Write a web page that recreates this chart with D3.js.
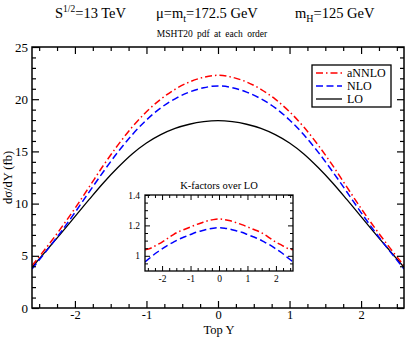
<!DOCTYPE html>
<html><head><meta charset="utf-8">
<script src="https://cdn.jsdelivr.net/npm/d3@7"></script>
<style>
html,body{margin:0;padding:0;background:#fff;}
svg text{font-family:"Liberation Serif","Times New Roman",serif !important;font-weight:400;fill:#000;}
</style></head>
<body>
<svg id="c" width="407" height="337"></svg>
<script>
// ---- data ----
const rapidity = [-2.6,-2.4,-2.2,-2.0,-1.8,-1.6,-1.4,-1.2,-1.0,-0.8,-0.6,-0.4,-0.2,0,
                  0.2,0.4,0.6,0.8,1.0,1.2,1.4,1.6,1.8,2.0,2.2,2.4,2.6];
const loValues    = [3.9,5.5,7.1,8.75,10.4,12.0,13.45,14.75,15.8,16.6,17.2,17.6,17.85,17.95,
                     17.85,17.6,17.2,16.6,15.8,14.75,13.45,12.0,10.4,8.75,7.1,5.5,3.9];
const nloValues   = [3.74,5.45,7.24,9.14,11.13,13.08,14.93,16.59,18.01,19.17,20.04,20.68,21.10,21.27,
                     21.10,20.68,20.04,19.17,18.01,16.59,14.93,13.08,11.13,9.14,7.24,5.45,3.74];
const annloValues = [4.06,5.78,7.60,9.54,11.60,13.68,15.60,17.33,18.80,20.00,20.95,21.65,22.10,22.29,
                     22.10,21.65,20.95,20.00,18.80,17.33,15.60,13.68,11.60,9.54,7.60,5.78,4.06];
const kNloValues   = [0.96,0.99,1.02,1.045,1.07,1.09,1.11,1.125,1.14,1.155,1.165,1.175,1.182,1.185,
                      1.182,1.175,1.165,1.155,1.14,1.125,1.11,1.09,1.07,1.045,1.02,0.99,0.96];
const kAnnloValues = [1.04,1.05,1.07,1.09,1.115,1.14,1.16,1.175,1.19,1.205,1.218,1.23,1.238,1.242,
                      1.238,1.23,1.218,1.205,1.19,1.175,1.16,1.14,1.115,1.09,1.07,1.05,1.04];
const xTickValues = [-2,-1,0,1,2];
const yTickValues = [0,5,10,15,20,25];
const insetYTickValues = [1.0,1.2,1.4];
const seriesNames = ["aNNLO","NLO","LO"];

// ---- drawing ----
const FONT = '"Liberation Serif","Times New Roman",serif';
const svg = d3.select("#c");
const L=32, R=404, T=47, B=308;
const x = d3.scaleLinear().domain([-2.6,2.6]).range([L,R]);
const y = d3.scaleLinear().domain([0,25]).range([B,T]);

const styles = {
  aNNLO:{color:"#ff0000", dash:"7,3,1.5,3", w:1.5},
  NLO:{color:"#0000ff", dash:"7,3.5", w:1.5},
  LO:{color:"#000000", dash:null, w:1.3}
};

svg.append("clipPath").attr("id","mainclip").append("rect")
  .attr("x",L).attr("y",T).attr("width",R-L).attr("height",B-T);

const line = d3.line().x((d,i)=>x(rapidity[i])).y(d=>y(d)).curve(d3.curveMonotoneX);
const seriesData = {aNNLO:annloValues, NLO:nloValues, LO:loValues};
const g = svg.append("g").attr("clip-path","url(#mainclip)");
["LO","NLO","aNNLO"].forEach(n=>{
  g.append("path").attr("d",line(seriesData[n])).attr("fill","none")
   .attr("stroke",styles[n].color).attr("stroke-width",styles[n].w)
   .attr("stroke-dasharray",styles[n].dash);
});

function styleAxis(sel, fs){
  sel.attr("font-family",FONT).attr("font-size",fs);
  sel.select(".domain").remove();
  sel.selectAll("line").attr("stroke","#000").attr("stroke-width",1.2);
  sel.selectAll("text").style("font-size",fs+"px");
}
const xMinor = d3.range(-2.5,2.51,0.25).filter(v=>Math.abs(v-Math.round(v))>1e-6);
const yMinor = d3.range(1,25,1).filter(v=>v%5!==0);

const ax = [
  [d3.axisBottom(x).tickValues(xTickValues).tickSize(-7).tickPadding(2).tickFormat(d=>d), `translate(0,${B})`, 12.5],
  [d3.axisBottom(x).tickValues(xMinor).tickSize(-4).tickFormat(""), `translate(0,${B})`, 12.5],
  [d3.axisTop(x).tickValues(xTickValues).tickSize(-7).tickFormat(""), `translate(0,${T})`, 12.5],
  [d3.axisTop(x).tickValues(xMinor).tickSize(-4).tickFormat(""), `translate(0,${T})`, 12.5],
  [d3.axisLeft(y).tickValues(yTickValues).tickSize(-7).tickPadding(4).tickFormat(d=>d), `translate(${L},0)`, 13],
  [d3.axisLeft(y).tickValues(yMinor).tickSize(-4).tickFormat(""), `translate(${L},0)`, 13],
  [d3.axisRight(y).tickValues(yTickValues).tickSize(-7).tickFormat(""), `translate(${R},0)`, 13],
  [d3.axisRight(y).tickValues(yMinor).tickSize(-4).tickFormat(""), `translate(${R},0)`, 13]
];
ax.forEach(a=>{
  const s = svg.append("g").attr("transform",a[1]).call(a[0]);
  styleAxis(s,a[2]);
});
svg.append("rect").attr("x",L).attr("y",T).attr("width",R-L).attr("height",B-T)
  .attr("fill","none").attr("stroke","#000").attr("stroke-width",1.5);

// axis labels
svg.append("text").attr("x",219).attr("y",334).attr("text-anchor","middle")
  .style("font-size","12.5px").text("Top Y");
svg.append("text").attr("transform",`translate(12,${(T+B)/2}) rotate(-90)`)
  .attr("text-anchor","middle").style("font-size","12.5px").text("dσ/dY (fb)");

// title
const t = svg.append("text").attr("y",18).style("font-size","14.5px");
t.append("tspan").attr("x",55).text("S");
t.append("tspan").attr("dy",-6).style("font-size","9.5px").text("1/2");
t.append("tspan").attr("dy",6).text("=13 TeV");
const t2 = svg.append("text").attr("y",18).style("font-size","14.5px").attr("x",156);
t2.append("tspan").text("μ=m");
t2.append("tspan").attr("dy",4).style("font-size","10px").text("t");
t2.append("tspan").attr("dy",-4).text("=172.5 GeV");
const t3 = svg.append("text").attr("y",18).style("font-size","14.5px").attr("x",295);
t3.append("tspan").text("m");
t3.append("tspan").attr("dy",4).style("font-size","10px").text("H");
t3.append("tspan").attr("dy",-4).text("=125 GeV");
svg.append("text").attr("x",212).attr("y",37).attr("text-anchor","middle")
  .style("font-size","9.5px").style("word-spacing","2px").text("MSHT20 pdf at each order");

// legend
const lg = svg.append("g");
lg.append("rect").attr("x",312).attr("y",65).attr("width",79).attr("height",42)
  .attr("fill","#fff").attr("stroke","#000").attr("stroke-width",1.3);
seriesNames.forEach((n,i)=>{
  const yy = 73 + i*13;
  lg.append("line").attr("x1",316).attr("x2",342).attr("y1",yy).attr("y2",yy)
    .attr("stroke",styles[n].color).attr("stroke-width",styles[n].w)
    .attr("stroke-dasharray",styles[n].dash);
  lg.append("text").attr("x",347).attr("y",yy+4).style("font-size","12px").text(n);
});

// inset
const iL=145, iR=293, iT=195, iB=271;
const xi = d3.scaleLinear().domain([-2.6,2.6]).range([iL,iR]);
const yi = d3.scaleLinear().domain([0.9,1.4]).range([iB,iT]);
svg.append("rect").attr("x",iL).attr("y",iT).attr("width",iR-iL).attr("height",iB-iT).attr("fill","#fff");
svg.append("clipPath").attr("id","iclip").append("rect")
  .attr("x",iL).attr("y",iT).attr("width",iR-iL).attr("height",iB-iT);
const iline = d3.line().x((d,i)=>xi(rapidity[i])).y(d=>yi(d)).curve(d3.curveMonotoneX);
const ig = svg.append("g").attr("clip-path","url(#iclip)");
ig.append("path").attr("d",iline(kNloValues)).attr("fill","none")
  .attr("stroke",styles.NLO.color).attr("stroke-width",1.5).attr("stroke-dasharray",styles.NLO.dash);
ig.append("path").attr("d",iline(kAnnloValues)).attr("fill","none")
  .attr("stroke",styles.aNNLO.color).attr("stroke-width",1.5).attr("stroke-dasharray",styles.aNNLO.dash);
const yiMinor = d3.range(0.95,1.4,0.05).filter(v=>Math.abs(v*5-Math.round(v*5))>1e-6);
const iax = [
  [d3.axisBottom(xi).tickValues(xTickValues).tickSize(-5).tickPadding(4).tickFormat(d=>d), `translate(0,${iB})`],
  [d3.axisBottom(xi).tickValues(xMinor).tickSize(-3).tickFormat(""), `translate(0,${iB})`],
  [d3.axisTop(xi).tickValues(xTickValues).tickSize(-5).tickFormat(""), `translate(0,${iT})`],
  [d3.axisTop(xi).tickValues(xMinor).tickSize(-3).tickFormat(""), `translate(0,${iT})`],
  [d3.axisLeft(yi).tickValues(insetYTickValues).tickSize(-5).tickPadding(5).tickFormat(d=>d===1?"1":d.toFixed(1)), `translate(${iL},0)`],
  [d3.axisLeft(yi).tickValues(yiMinor).tickSize(-3).tickFormat(""), `translate(${iL},0)`],
  [d3.axisRight(yi).tickValues(insetYTickValues).tickSize(-5).tickFormat(""), `translate(${iR},0)`],
  [d3.axisRight(yi).tickValues(yiMinor).tickSize(-3).tickFormat(""), `translate(${iR},0)`]
];
iax.forEach(a=>{
  const s = svg.append("g").attr("transform",a[1]).call(a[0]);
  styleAxis(s,9.5);
  s.selectAll("line").attr("stroke-width",1);
});
svg.append("rect").attr("x",iL).attr("y",iT).attr("width",iR-iL).attr("height",iB-iT)
  .attr("fill","none").attr("stroke","#000").attr("stroke-width",1.3);
svg.append("text").attr("x",219).attr("y",189).attr("text-anchor","middle")
  .style("font-size","10.5px").text("K-factors over LO");
</script>
</body></html>
